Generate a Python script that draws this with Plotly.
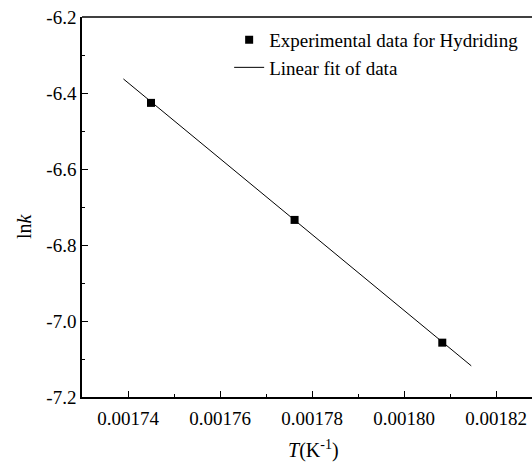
import plotly.graph_objects as go

# Experimental data
inv_T = [0.001745, 0.0017762, 0.0018083]
ln_k = [-6.426, -6.734, -7.057]

# Linear fit endpoints
fit_x = [0.001739, 0.0018146]
fit_y = [-6.363, -7.118]

x_ticks = [0.00174, 0.00176, 0.00178, 0.00180, 0.00182]
x_ticklabels = ["0.00174", "0.00176", "0.00178", "0.00180", "0.00182"]
y_ticks = [-7.2, -7.0, -6.8, -6.6, -6.4, -6.2]
y_ticklabels = ["-7.2", "-7.0", "-6.8", "-6.6", "-6.4", "-6.2"]

FONT = "Liberation Serif, Times New Roman, serif"

fig = go.Figure()
fig.add_trace(go.Scatter(
    x=inv_T, y=ln_k, mode="markers",
    marker=dict(symbol="square", size=8, color="black"),
    name="Experimental data for Hydriding",
))
fig.add_trace(go.Scatter(
    x=fit_x, y=fit_y, mode="lines",
    line=dict(color="black", width=1),
    name="Linear fit of data",
))

fig.update_layout(
    width=532, height=467,
    margin=dict(l=82, r=0, t=17, b=70),
    paper_bgcolor="white", plot_bgcolor="white",
    font=dict(family=FONT, size=19, color="black"),
    showlegend=True,
    legend=dict(x=0.327, y=0.99, xanchor="left", yanchor="top",
                bgcolor="rgba(0,0,0,0)", font=dict(size=19, family=FONT),
                tracegroupgap=0),
    xaxis=dict(
        range=[0.00173, 0.0018278],
        tickmode="array", tickvals=x_ticks, ticktext=x_ticklabels,
        ticks="inside", ticklen=6, tickwidth=1, tickcolor="black",
        minor=dict(ticks="inside", ticklen=3, tickwidth=1, tickcolor="black", dtick=0.00001),
        showline=True, linecolor="black", linewidth=1.5,
        showgrid=False, zeroline=False, ticklabelstandoff=3,
        tickfont=dict(size=19, family=FONT),
    ),
    yaxis=dict(
        range=[-7.2, -6.2],
        tickmode="array", tickvals=y_ticks, ticktext=y_ticklabels,
        ticks="inside", ticklen=6, tickwidth=1, tickcolor="black",
        minor=dict(ticks="inside", ticklen=3, tickwidth=1, tickcolor="black", dtick=0.1),
        showline=True, linecolor="black", linewidth=1.5,
        showgrid=False, zeroline=False,
        tickfont=dict(size=19, family=FONT),
    ),
    shapes=[dict(type="line", xref="paper", yref="paper", x0=0, x1=1, y0=1, y1=1,
                 line=dict(color="black", width=1.5))],
    annotations=[
        dict(text="ln<i>k</i>", xref="paper", yref="paper", x=(24 - 82) / 450, y=(397 - 226) / 380,
             xanchor="center", yanchor="middle", textangle=-90, showarrow=False,
             font=dict(size=20, family=FONT)),
        dict(text="<i>T</i>(K<sup>-1</sup>)", xref="paper", yref="paper",
             x=(313 - 82) / 450, y=-(449 - 397) / 380, xanchor="center", yanchor="middle",
             showarrow=False, font=dict(size=20, family=FONT)),
    ],
)

fig.write_html("out.html")
